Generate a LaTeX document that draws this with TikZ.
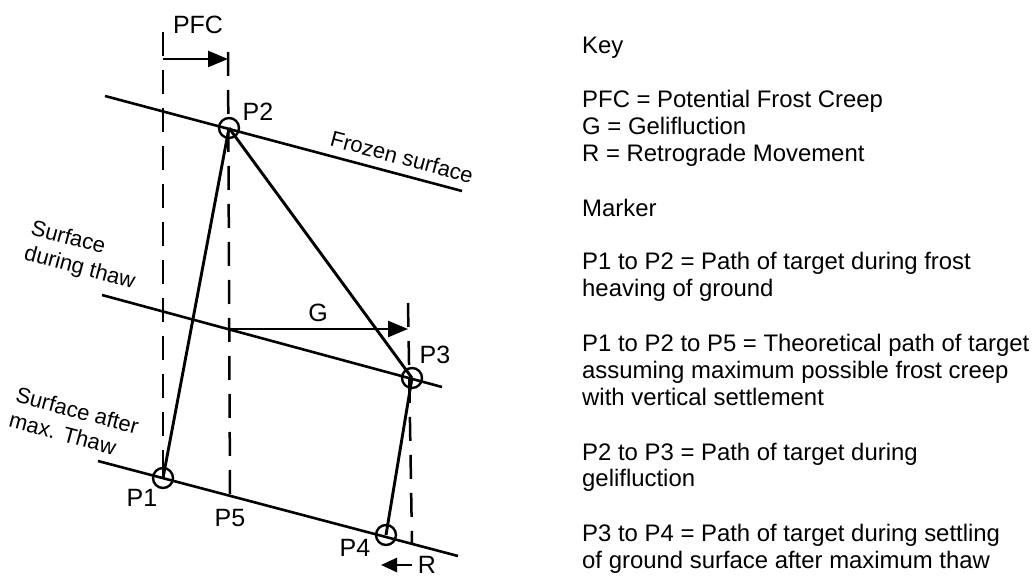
\documentclass[tikz,border=0pt]{standalone}
\usepackage{fontspec}
\setmainfont{Liberation Sans}
\usetikzlibrary{arrows.meta}
\begin{document}
\begin{tikzpicture}[x=1pt,y=-1pt,
  surf/.style={line width=2.6pt},
  tpath/.style={line width=2.9pt},
  guide/.style={line width=2.5pt, dash pattern=on 24pt off 14pt},
  pmark/.style={circle, draw, line width=2.4pt, minimum size=20pt, inner sep=0pt},
  lab/.style={font=\fontsize{25}{28}\selectfont, inner sep=0pt},
  slab/.style={font=\fontsize{22}{26}\selectfont, inner sep=0pt, rotate=-15, align=left},
  keytxt/.style={font=\fontsize{23.9}{26.7}\selectfont, anchor=base west, inner sep=0pt},
  arr/.style={line width=2.5pt, -{Triangle[length=20pt,width=16pt]}},
  sarr/.style={line width=2.5pt, -{Triangle[length=16pt,width=14pt]}}
]
\useasboundingbox (0,0) rectangle (1036,577);

% surfaces
\coordinate (F1) at (105,96);  \coordinate (F2) at (462,191);
\coordinate (T1) at (102,295); \coordinate (T2) at (442,387);
\coordinate (A1) at (98,461);  \coordinate (A2) at (458,556);
\draw[surf] (F1) -- (F2);
\draw[surf] (T1) -- (T2);
\draw[surf] (A1) -- (A2);

% points
\node[pmark] (P1) at (163,478) {};
\node[pmark] (P2) at (229,128) {};
\node[pmark] (P3) at (412,378) {};
\node[pmark] (P4) at (386,535) {};
\coordinate (P5) at (230,494);

% guide lines
\coordinate (Ltop) at (163,32);
\coordinate (Mtop) at (228,52);
\coordinate (Gtop) at (408,303);
\coordinate (Gbot) at (412,543);
\draw[guide] (Ltop) -- (P1.center);
\draw[guide] (Mtop) -- (P5);
\draw[guide] (Gtop) -- (Gbot);

% arrows
\coordinate (pfcA) at (163,59); \coordinate (pfcB) at (228,59);
\draw[arr] (pfcA) -- (pfcB);
\coordinate (gA) at (230,329); \coordinate (gB) at (408,329);
\draw[arr] (gA) -- (gB);
\coordinate (rA) at (412,565); \coordinate (rB) at (381,565);
\draw[sarr] (rA) -- (rB);

% target paths
\draw[tpath] (P1.center) -- (P2.center);
\draw[tpath] (P2.center) -- (P3.center);
\draw[tpath] (P3.center) -- (P4.center);

% labels
\node[lab] (lPFC) at (198,25) {PFC};
\node[lab] (lP2) at (258,112) {P2};
\node[lab] (lG) at (318,313) {G};
\node[lab] (lP3) at (435,355) {P3};
\node[lab] (lP1) at (142,498) {P1};
\node[lab] (lP5) at (230,518) {P5};
\node[lab] (lP4) at (355,548) {P4};
\node[lab] (lR) at (427,565) {R};

\node[slab] (sF) at (402,157) {Frozen surface};
\node[slab] (sT) at (83,256) {Surface\\during thaw};
\node[slab] (sA) at (74,423) {Surface after\\max. Thaw};

% key
\node[keytxt] (k0) at (582,54) {Key};
\node[keytxt] (k1) at (582,108) {PFC = Potential Frost Creep};
\node[keytxt] (k2) at (582,134.7) {G = Gelifluction};
\node[keytxt] (k3) at (582,161.3) {R = Retrograde Movement};
\node[keytxt] (k4) at (582,216.7) {Marker};
\node[keytxt] (k5) at (582,270) {P1 to P2 = Path of target during frost};
\node[keytxt] (k6) at (582,296.7) {heaving of ground};
\node[keytxt] (k7) at (582,351.7) {P1 to P2 to P5 = Theoretical path of target};
\node[keytxt] (k8) at (582,378.4) {assuming maximum possible frost creep};
\node[keytxt] (k9) at (582,405) {with vertical settlement};
\node[keytxt] (k10) at (582,460) {P2 to P3 = Path of target during};
\node[keytxt] (k11) at (582,486.7) {gelifluction};
\node[keytxt] (k12) at (582,541.7) {P3 to P4 = Path of target during settling};
\node[keytxt] (k13) at (582,568.4) {of ground surface after maximum thaw};
\end{tikzpicture}
\end{document}
